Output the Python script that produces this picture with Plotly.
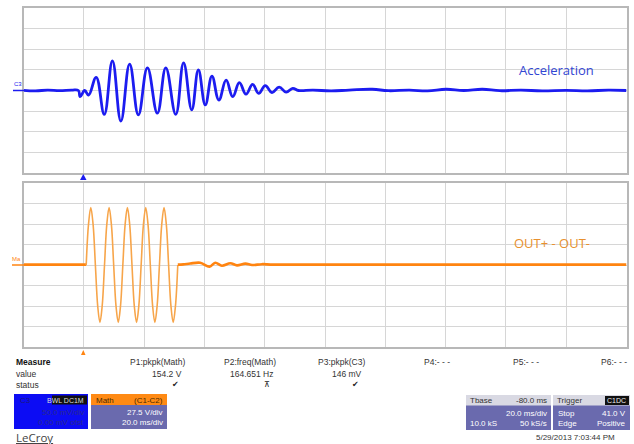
import plotly.graph_objects as go

W, H = 634, 444

# ---- Channel C3 (acceleration), time in ms, amplitude in mV ----
c3_t_ms = [-20, -16, -12, -8, -4, -1.8, -1.2, 0.3, 1.6, 4.1, 6.8, 9.5, 12.3, 15.2, 18.1,
           21.1, 24.4, 27.2, 30.5, 33.1, 35.8, 38.0, 40.3, 42.5, 44.8, 47.2, 49.4, 51.6,
           53.8, 56.0, 58.0, 60.2, 62.4, 64.8, 67.1, 69.3, 71.2, 76, 82, 88, 95.7, 101,
           108, 114, 120.2, 126, 132.2, 138, 145, 152, 160, 167, 174, 180]
c3_mv = [0.5, -1, 1, -0.5, 1, 0, -15, 0, -11, 32, -58, 72, -74, 64, -59,
         55, -55, 55, -58, 67, -47, 50, -35, 35, -23, 25, -15, 19,
         -9, 15, -7, 12, -5, 8, -4, 5, 0, 1, -1, 1, 3, -0.5,
         1, -1, 3, 0, 3, -0.5, 1, -1, 0.5, -1, 1, 0]

# ---- Math trace (C1-C2), time in ms, amplitude in V ----
math_pre_t_ms = [-20, 0.8]
math_pre_v = [0.5, 0.5]

math_burst_t_ms = [0.80, 1.56, 2.32, 3.08, 3.84, 4.60, 5.35, 6.11,
                   6.87, 7.63, 8.39, 9.15, 9.91, 10.67, 11.43, 12.19,
                   12.95, 13.71, 14.46, 15.22, 15.98, 16.74, 17.50, 18.26,
                   19.02, 19.78, 20.54, 21.30, 22.06, 22.82, 23.57, 24.33,
                   25.09, 25.85, 26.61, 27.37, 28.13, 28.89, 29.65, 30.41, 31.17]
math_burst_v = [0, 54.5, 77.1, 54.5, 0, -54.5, -77.1, -54.5,
                0, 54.5, 77.1, 54.5, 0, -54.5, -77.1, -54.5,
                0, 54.5, 77.1, 54.5, 0, -54.5, -77.1, -54.5,
                0, 54.5, 77.1, 54.5, 0, -54.5, -77.1, -54.5,
                0, 54.5, 77.1, 54.5, 0, -54.5, -77.1, -54.5, 0]

math_tail_t_ms = [31.17, 33.0, 35.3, 38.6, 41.7, 43.6, 45.8, 48.6, 50.8, 53.6, 55.8,
                  59.1, 63, 180]
math_tail_v = [0.5, 0.8, 2, 3, -2.2, 3, -1, 2.4, -0.5, 1.8, 0, 1.1, 0.5, 0.5]

# ---- Measurement table ----
meas_headers = ["P1:pkpk(Math)", "P2:freq(Math)", "P3:pkpk(C3)", "P4:- - -", "P5:- - -", "P6:- - -"]
meas_values = ["154.2 V", "164.651 Hz", "146 mV", "", "", ""]
meas_status = ["\u2714", "\u22bc", "\u2714", "", "", ""]

BLUE = "#1c1cf0"
ORANGE = "#ff8410"
ORANGE_LIGHT = "#f7a54a"
SLATE = "#6a6aae"
GRID = "#d6d6d6"
FRAME = "#b8b8b8"


def px(x):
    return x / W


def py(y):
    return 1 - y / H


fig = go.Figure()

fig.add_trace(go.Scatter(x=c3_t_ms, y=c3_mv, mode="lines",
                         line=dict(color=BLUE, width=2.8, shape="spline", smoothing=1.2),
                         xaxis="x", yaxis="y", hoverinfo="skip"))
fig.add_trace(go.Scatter(x=math_pre_t_ms, y=math_pre_v, mode="lines",
                         line=dict(color=ORANGE, width=2.6),
                         xaxis="x2", yaxis="y2", hoverinfo="skip"))
fig.add_trace(go.Scatter(x=math_burst_t_ms, y=math_burst_v, mode="lines",
                         line=dict(color=ORANGE_LIGHT, width=1.6, shape="spline", smoothing=1.0),
                         xaxis="x2", yaxis="y2", hoverinfo="skip"))
fig.add_trace(go.Scatter(x=math_tail_t_ms, y=math_tail_v, mode="lines",
                         line=dict(color=ORANGE, width=2.6, shape="spline", smoothing=1.0),
                         xaxis="x2", yaxis="y2", hoverinfo="skip"))

x_dom = [px(23.5), px(626.5)]
axis_common = dict(showticklabels=False, ticks="", showgrid=True, gridcolor=GRID, gridwidth=1,
                   zeroline=False, showline=True, linecolor=FRAME, linewidth=1.5, mirror=True,
                   fixedrange=True)

fig.update_layout(
    width=W, height=H,
    margin=dict(l=0, r=0, t=0, b=0),
    paper_bgcolor="white", plot_bgcolor="white",
    showlegend=False,
    xaxis=dict(domain=x_dom, range=[-20, 180], dtick=20, tick0=-20, anchor="y", **axis_common),
    yaxis=dict(domain=[py(173), py(8)], range=[-200, 200], dtick=50, tick0=0, anchor="x", **axis_common),
    xaxis2=dict(domain=x_dom, range=[-20, 180], dtick=20, tick0=-20, anchor="y2", **axis_common),
    yaxis2=dict(domain=[py(347), py(183)], range=[-110, 110], dtick=27.5, tick0=0, anchor="x2", **axis_common),
)

annotations = []
shapes = []


def text(x, y, s, size=9, color="#333", anchor="left", family="Liberation Sans", bold=False):
    if bold:
        s = "<b>" + s + "</b>"
    annotations.append(dict(x=px(x), y=py(y), xref="paper", yref="paper", text=s, showarrow=False,
                            xanchor=anchor, yanchor="middle",
                            font=dict(size=size, color=color, family=family)))


def rect(x0, y0, x1, y1, color, line=None):
    shapes.append(dict(type="rect", xref="paper", yref="paper", x0=px(x0), x1=px(x1),
                       y0=py(y1), y1=py(y0), fillcolor=color,
                       line=dict(width=0 if line is None else 1, color=line or color), layer="above"))


# trace labels
text(556, 70, "Acceleration", size=13, color="#3246d2", anchor="center", family="Open Sans")
text(552, 243, "OUT+ - OUT-", size=13, color="#e8902e", anchor="center", family="Open Sans")

# channel offset markers on the left edge
text(18, 84, "C3", size=6, color=BLUE, anchor="center")
shapes.append(dict(type="line", xref="paper", yref="paper", x0=px(13), x1=px(24), y0=py(90.5), y1=py(90.5),
                   line=dict(color=BLUE, width=1.5)))
text(16, 259, "Ma", size=6, color=ORANGE, anchor="center")
shapes.append(dict(type="line", xref="paper", yref="paper", x0=px(12), x1=px(24), y0=py(265), y1=py(265),
                   line=dict(color=ORANGE, width=1.5)))

# trigger position markers
shapes.append(dict(type="path", xref="paper", yref="paper",
                   path=f"M {px(80)} {py(180)} L {px(86.5)} {py(180)} L {px(83.3)} {py(174)} Z",
                   fillcolor=BLUE, line=dict(width=0)))
shapes.append(dict(type="path", xref="paper", yref="paper",
                   path=f"M {px(81)} {py(355)} L {px(85.5)} {py(355)} L {px(83.3)} {py(350)} Z",
                   fillcolor=ORANGE, line=dict(width=0)))

# measurement table
text(14, 362, "Measure", size=8.5, color="#111", bold=True)
text(14, 373.5, "value", size=8.5, color="#333")
text(14, 384.5, "status", size=8.5, color="#333")
col_right = [187, 278, 367, 452, 541, 629]
for xr, hdr, val, st in zip(col_right, meas_headers, meas_values, meas_status):
    text(xr, 362, hdr, size=8.5, color="#333", anchor="right")
    if val:
        text(xr - 3, 373.5, val, size=8.5, color="#333", anchor="right")
    if st:
        text(xr - 6, 384.5, st, size=8, color="#222", anchor="right", family="DejaVu Sans")

# C3 channel badge
rect(14, 394, 88, 429, "#0c0cf4")
text(18, 400, "C3", size=8, color="#1a1a7a")
rect(52, 395.5, 87, 404.5, "#111")
text(86, 400, "BWL DC1M", size=7, color="#ddd", anchor="right")
text(86, 412.5, "50.0 mV/div", size=8, color="#2a2a90", anchor="right")
text(86, 422.5, "0.00 mV ofst", size=8, color="#2a2a90", anchor="right")

# Math badge
rect(91, 394, 167, 429, SLATE)
rect(91, 394, 167, 405, "#ff8a14")
text(94, 400, "Math", size=8, color="#4a2a00")
text(165, 400, "(C1-C2)", size=8, color="#4a2a00", anchor="right")
text(165, 412.5, "27.5 V/div", size=8, color="white", anchor="right")
text(165, 422.5, "20.0 ms/div", size=8, color="white", anchor="right")

# Timebase badge
rect(466, 395, 551, 430, SLATE)
rect(466, 395, 551, 405.5, "#d9d9e3")
text(468, 400.5, "Tbase", size=8, color="#333")
text(549, 400.5, "-80.0 ms", size=8, color="#333", anchor="right")
text(549, 413, "20.0 ms/div", size=8, color="white", anchor="right")
text(468, 423, "10.0 kS", size=8, color="white")
text(549, 423, "50 kS/s", size=8, color="white", anchor="right")

# Trigger badge
rect(553, 395, 630, 430, SLATE)
rect(553, 395, 630, 405.5, "#d9d9e3")
text(555, 400.5, "Trigger", size=8, color="#333")
rect(605, 396, 629, 405, "#111")
text(628, 400.5, "C1DC", size=7, color="#eee", anchor="right")
text(556, 413, "Stop", size=8, color="white")
text(628, 413, "41.0 V", size=8, color="white", anchor="right")
text(556, 423, "Edge", size=8, color="white")
text(628, 423, "Positive", size=8, color="white", anchor="right")

# footer
text(14, 437, "<u>LeCroy</u>", size=11.5, color="#444", family="Open Sans")
text(617, 437, "5/29/2013 7:03:44 PM", size=8, color="#333", anchor="right")

fig.update_layout(annotations=annotations, shapes=shapes)
fig.write_html("out.html")
